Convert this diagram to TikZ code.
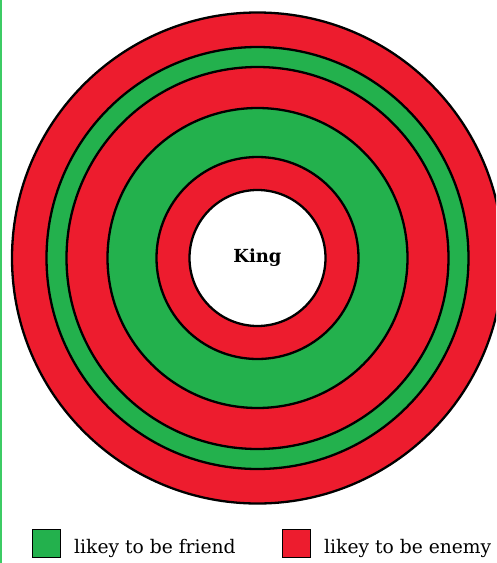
\documentclass[tikz,border=0pt]{standalone}
\usepackage{fontspec}
\setmainfont{DejaVu Serif}
\definecolor{ringred}{HTML}{ED1C2E}
\definecolor{ringgreen}{HTML}{23B14D}
\definecolor{edgegreen}{HTML}{3CCB64}
\begin{document}
\begin{tikzpicture}[x=1pt,y=-1pt,
  ring/.style={draw=black,line width=2.3pt},
  keybox/.style={draw=black,line width=1.8pt,minimum size=28pt,inner sep=0pt},
  keytext/.style={anchor=base west,inner sep=0pt,font=\fontsize{18.7}{21}\selectfont}]
\useasboundingbox (0,0) rectangle (496,563);
\clip (0,0) rectangle (496,563);
\draw[edgegreen,line width=1.5pt] (1,0) -- (1,563);
\coordinate (c) at (257.5,258);
\filldraw[ring,fill=ringred] (c) circle[radius=245.5];
\filldraw[ring,fill=ringgreen] (c) circle[radius=211];
\filldraw[ring,fill=ringred] (c) circle[radius=191];
\filldraw[ring,fill=ringgreen] (c) circle[radius=150];
\filldraw[ring,fill=ringred] (c) circle[radius=101];
\filldraw[ring,fill=white] (c) circle[radius=68];
\node[font=\bfseries\fontsize{18}{21}\selectfont] (king) at (257.5,258) {King};
\node[keybox,fill=ringgreen] (kf) at (46.5,543.5) {};
\node[keytext] (tf) at (74,553) {likey to be friend};
\node[keybox,fill=ringred] (ke) at (296.5,543.5) {};
\node[keytext] (te) at (324,553) {likey to be enemy};
\end{tikzpicture}
\end{document}
